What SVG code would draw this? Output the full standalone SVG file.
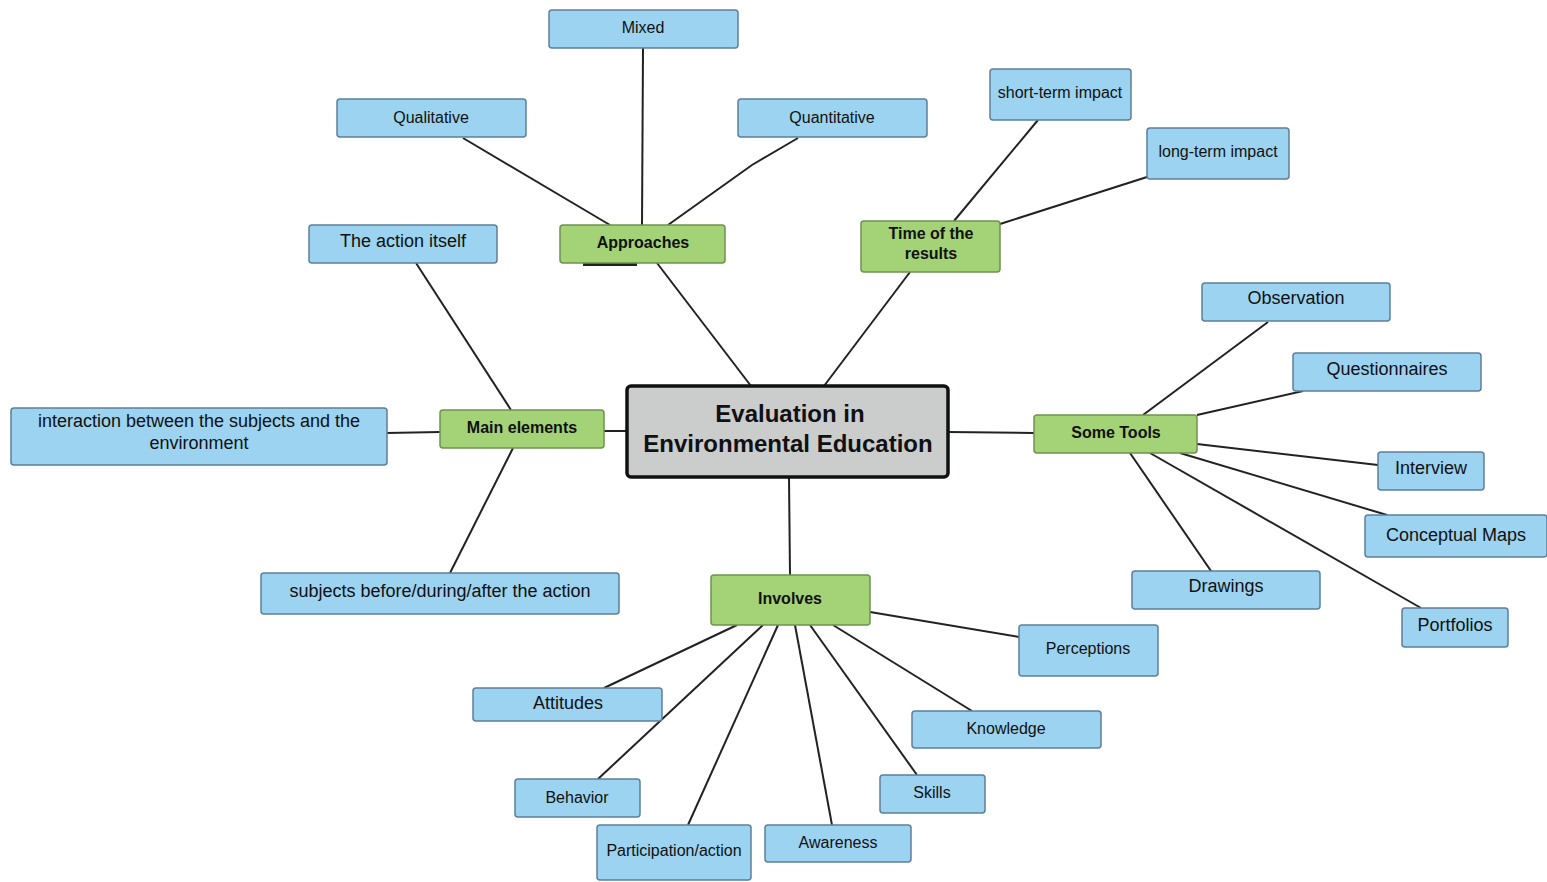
<svg xmlns="http://www.w3.org/2000/svg" width="1547" height="882" viewBox="0 0 1547 882">
<style>
.b{fill:#9bd3f0;stroke:#5f7f98;stroke-width:1.5}
.g{fill:#a4d276;stroke:#6f9150;stroke-width:1.5}
.c{fill:#cbcccc;stroke:#111;stroke-width:3.5}
text{font-family:"Liberation Sans",Arial,sans-serif;fill:#111;text-anchor:middle}
.t16{font-size:16px}
.t18{font-size:18px}
.gt{font-size:16px;font-weight:bold}
.ct{font-size:24px;font-weight:bold}
#edges line,#edges polyline{stroke:#222;stroke-width:2;fill:none}
</style>
<rect width="1547" height="882" fill="#fff"/>
<g id="edges">
<line x1="643" y1="48" x2="642" y2="225"/>
<line x1="463" y1="138" x2="610" y2="225"/>
<polyline points="798,138 752,165 668,225"/>
<line x1="657" y1="263" x2="751" y2="386"/>
<line x1="910" y1="272" x2="824" y2="386"/>
<line x1="1038" y1="120" x2="954" y2="221"/>
<line x1="1147" y1="177" x2="1000" y2="224"/>
<line x1="416" y1="263" x2="511" y2="410"/>
<line x1="387" y1="433" x2="440" y2="432"/>
<line x1="604" y1="431" x2="627" y2="431"/>
<line x1="450" y1="573" x2="513" y2="448"/>
<line x1="948" y1="432" x2="1034" y2="433"/>
<line x1="1268" y1="322" x2="1143" y2="415"/>
<line x1="1303" y1="391" x2="1197" y2="415"/>
<line x1="1378" y1="465" x2="1197" y2="444"/>
<line x1="1387" y1="515" x2="1180" y2="453"/>
<line x1="1421" y1="608" x2="1150" y2="453"/>
<line x1="1211" y1="571" x2="1130" y2="453"/>
<line x1="789" y1="477" x2="790" y2="575"/>
<line x1="870" y1="612" x2="1019" y2="637"/>
<line x1="972" y1="711" x2="833" y2="625"/>
<line x1="917" y1="775" x2="810" y2="625"/>
<line x1="832" y1="825" x2="795" y2="625"/>
<line x1="688" y1="825" x2="778" y2="625"/>
<line x1="598" y1="779" x2="763" y2="625"/>
<line x1="604" y1="688" x2="737" y2="625"/>
</g>
<g id="n-center"><rect class="c" x="627" y="386" width="321" height="91" rx="4"/><text class="ct" x="790" y="422">Evaluation in</text><text class="ct" x="788" y="452">Environmental Education</text></g>
<g id="n-approaches"><rect x="583" y="262" width="54" height="4" fill="#222"/><rect class="g" x="560" y="225" width="165" height="38" rx="3"/><text class="gt" x="643" y="248">Approaches</text></g>
<g id="n-mixed"><rect class="b" x="549" y="10" width="189" height="38" rx="3"/><text class="t16" x="643" y="33">Mixed</text></g>
<g id="n-qualitative"><rect class="b" x="337" y="99" width="189" height="38" rx="3"/><text class="t16" x="431" y="123">Qualitative</text></g>
<g id="n-quantitative"><rect class="b" x="738" y="99" width="189" height="38" rx="3"/><text class="t16" x="832" y="123">Quantitative</text></g>
<g id="n-time"><rect class="g" x="861" y="221" width="139" height="51" rx="3"/><text class="gt" x="931" y="239">Time of the</text><text class="gt" x="931" y="259">results</text></g>
<g id="n-short"><rect class="b" x="990" y="69" width="141" height="51" rx="3"/><text class="t16" x="1060" y="98">short-term impact</text></g>
<g id="n-long"><rect class="b" x="1147" y="128" width="142" height="51" rx="3"/><text class="t16" x="1218" y="157">long-term impact</text></g>
<g id="n-main"><rect class="g" x="440" y="410" width="164" height="38" rx="3"/><text class="gt" x="522" y="433">Main elements</text></g>
<g id="n-action"><rect class="b" x="309" y="225" width="188" height="38" rx="3"/><text class="t18" x="403" y="247">The action itself</text></g>
<g id="n-interaction"><rect class="b" x="11" y="408" width="376" height="57" rx="3"/><text class="t18" x="199" y="427">interaction between the subjects and the</text><text class="t18" x="199" y="449">environment</text></g>
<g id="n-subjects"><rect class="b" x="261" y="573" width="358" height="41" rx="3"/><text class="t18" x="440" y="597">subjects before/during/after the action</text></g>
<g id="n-tools"><rect class="g" x="1034" y="415" width="163" height="38" rx="3"/><text class="gt" x="1116" y="438">Some Tools</text></g>
<g id="n-observation"><rect class="b" x="1202" y="283" width="188" height="38" rx="3"/><text class="t18" x="1296" y="304">Observation</text></g>
<g id="n-questionnaires"><rect class="b" x="1293" y="353" width="188" height="38" rx="3"/><text class="t18" x="1387" y="375">Questionnaires</text></g>
<g id="n-interview"><rect class="b" x="1378" y="452" width="106" height="38" rx="3"/><text class="t18" x="1431" y="474">Interview</text></g>
<g id="n-conceptual"><rect class="b" x="1365" y="515" width="182" height="42" rx="3"/><text class="t18" x="1456" y="541">Conceptual Maps</text></g>
<g id="n-drawings"><rect class="b" x="1132" y="571" width="188" height="38" rx="3"/><text class="t18" x="1226" y="592">Drawings</text></g>
<g id="n-portfolios"><rect class="b" x="1402" y="608" width="106" height="39" rx="3"/><text class="t18" x="1455" y="631">Portfolios</text></g>
<g id="n-involves"><rect class="g" x="711" y="575" width="159" height="50" rx="3"/><text class="gt" x="790" y="604">Involves</text></g>
<g id="n-perceptions"><rect class="b" x="1019" y="625" width="139" height="51" rx="3"/><text class="t16" x="1088" y="654">Perceptions</text></g>
<g id="n-knowledge"><rect class="b" x="912" y="711" width="189" height="37" rx="3"/><text class="t16" x="1006" y="734">Knowledge</text></g>
<g id="n-skills"><rect class="b" x="880" y="775" width="105" height="38" rx="3"/><text class="t16" x="932" y="798">Skills</text></g>
<g id="n-awareness"><rect class="b" x="765" y="825" width="146" height="37" rx="3"/><text class="t16" x="838" y="848">Awareness</text></g>
<g id="n-participation"><rect class="b" x="597" y="825" width="154" height="55" rx="3"/><text class="t16" x="674" y="856">Participation/action</text></g>
<g id="n-behavior"><rect class="b" x="515" y="779" width="125" height="38" rx="3"/><text class="t16" x="577" y="803">Behavior</text></g>
<g id="n-attitudes"><rect class="b" x="473" y="688" width="189" height="33" rx="3"/><text class="t18" x="568" y="709">Attitudes</text></g>
</svg>
